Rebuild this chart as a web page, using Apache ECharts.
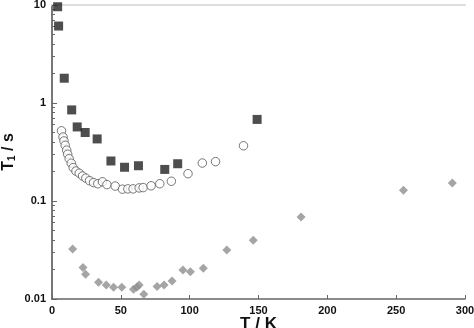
<!DOCTYPE html>
<html>
<head>
<meta charset="utf-8">
<script src="https://cdn.jsdelivr.net/npm/echarts@6/dist/echarts.min.js"></script>
<style>
  html, body { margin: 0; padding: 0; background: #fff; }
  #chart { width: 474px; height: 328px; }
</style>
</head>
<body>
<div id="chart"></div>
<script>
// filled squares
var squareT  = [4.1, 4.8, 8.9, 14.3, 18.3, 24.1, 32.8, 42.8, 52.7, 62.8, 81.9, 91.3, 149];
var squareT1 = [9.6, 6.1, 1.79, 0.85, 0.57, 0.50, 0.43, 0.256, 0.221, 0.229, 0.21, 0.24, 0.68];

// open circles
var circleT  = [6.9, 8.0, 8.7, 9.6, 10.7, 11.4, 12.5, 14.0, 15.4, 17.4, 19.8, 22.2, 24.6, 27.3, 30.2, 33.3,
                36.7, 39.9, 45.9, 51.2, 55.1, 58.9, 63.3, 66.2, 72.0, 78.3, 86.7, 98.8, 109.2, 118.8, 139.1];
var circleT1 = [0.52, 0.45, 0.41, 0.37, 0.33, 0.30, 0.27, 0.243, 0.219, 0.202, 0.192, 0.180, 0.171, 0.161, 0.154, 0.150,
                0.157, 0.147, 0.142, 0.132, 0.133, 0.133, 0.136, 0.137, 0.143, 0.150, 0.159, 0.190, 0.244, 0.252, 0.366];

// grey diamonds
var diamondT  = [15.0, 22.5, 24.4, 33.8, 39.4, 44.7, 50.7, 59.2, 61.6, 63.3, 66.7, 76.3, 81.4, 87.2,
                 95.1, 100.5, 109.9, 127.0, 146.2, 180.9, 255.3, 290.8];
var diamondT1 = [0.0324, 0.0210, 0.0179, 0.0148, 0.0139, 0.0132, 0.0132, 0.0126, 0.0132, 0.0139, 0.0112, 0.0134, 0.0139, 0.0153,
                 0.0198, 0.0190, 0.0206, 0.0316, 0.0397, 0.0687, 0.129, 0.153];

var xTicks = [0, 50, 100, 150, 200, 250, 300];
var yTicks = [0.01, 0.1, 1, 10];

// minor ticks 2..9 in each decade
var yMinor = [];
yTicks.slice(0, -1).forEach(function (d) {
    for (var k = 2; k <= 9; k++) yMinor.push(+(d * k).toPrecision(3));
});

function pairs(xs, ys) {
    return xs.map(function (x, i) { return [x, ys[i]]; });
}

var labelFont = { fontFamily: 'Liberation Sans', fontWeight: 'bold', fontSize: 11, color: '#111' };

var option = {
    animation: false,
    grid: { left: 52, right: 9, top: 5, bottom: 29, outerBoundsMode: 'none', containLabel: false },
    xAxis: [{
        type: 'value',
        min: xTicks[0],
        max: xTicks[xTicks.length - 1],
        interval: 50,
        name: 'T / K',
        nameLocation: 'middle',
        nameGap: 17,
        nameMoveOverlap: false,
        nameTextStyle: { fontFamily: 'Liberation Sans', fontWeight: 'bold', fontSize: 17, color: '#111', verticalAlign: 'top' },
        axisLine: { lineStyle: { color: '#666', width: 1.5 } },
        axisTick: { inside: true, length: 4, lineStyle: { color: '#666' } },
        axisLabel: Object.assign({ margin: 6 }, labelFont),
        splitLine: { show: false }
    }, {
        type: 'value',
        position: 'top',
        min: 0, max: 300,
        axisLine: { show: true, lineStyle: { color: '#ddd', width: 2 } },
        axisTick: { show: false },
        axisLabel: { show: false },
        splitLine: { show: false }
    }],
    yAxis: [{
        type: 'log',
        logBase: 10,
        min: yTicks[0],
        max: yTicks[yTicks.length - 1],
        name: '{a|T}{b|1}{a| / s}',
        nameLocation: 'middle',
        nameGap: 35,
        nameMoveOverlap: false,
        nameTextStyle: {
            rich: {
                a: { fontFamily: 'Liberation Sans', fontWeight: 'bold', fontSize: 16, color: '#111' },
                b: { fontFamily: 'Liberation Sans', fontWeight: 'bold', fontSize: 10, color: '#111', verticalAlign: 'bottom', padding: [6, 0, 0, 0] }
            }
        },
        axisLine: { show: true, lineStyle: { color: '#666', width: 1.5 } },
        axisTick: { inside: true, length: 5, lineStyle: { color: '#666' } },
        axisLabel: Object.assign({ margin: 6 }, labelFont),
        splitLine: { show: false }
    }, {
        type: 'log',
        position: 'right',
        min: 0.01, max: 10,
        axisLine: { show: true, lineStyle: { color: '#777', width: 2 } },
        axisTick: { show: false },
        axisLabel: { show: false },
        splitLine: { show: false }
    }, {
        // minor ticks on the left axis
        type: 'log',
        position: 'left',
        min: 0.01, max: 10,
        axisLine: { show: false },
        axisTick: { show: true, inside: true, length: 3, customValues: yMinor, lineStyle: { color: '#666' } },
        axisLabel: { show: false },
        splitLine: { show: false }
    }],
    series: [{
        name: 'diamonds',
        type: 'scatter',
        symbol: 'diamond',
        symbolSize: 9,
        itemStyle: { color: '#8e8e8e' },
        data: pairs(diamondT, diamondT1)
    }, {
        name: 'circles',
        type: 'scatter',
        symbol: 'circle',
        symbolSize: 8.5,
        itemStyle: { color: '#fff', borderColor: '#555', borderWidth: 1 },
        data: pairs(circleT, circleT1)
    }, {
        name: 'squares',
        type: 'scatter',
        symbol: 'rect',
        symbolSize: 9,
        itemStyle: { color: '#222' },
        data: pairs(squareT, squareT1)
    }]
};

var myChart = echarts.init(document.getElementById('chart'));
myChart.setOption(option);
</script>
</body>
</html>
